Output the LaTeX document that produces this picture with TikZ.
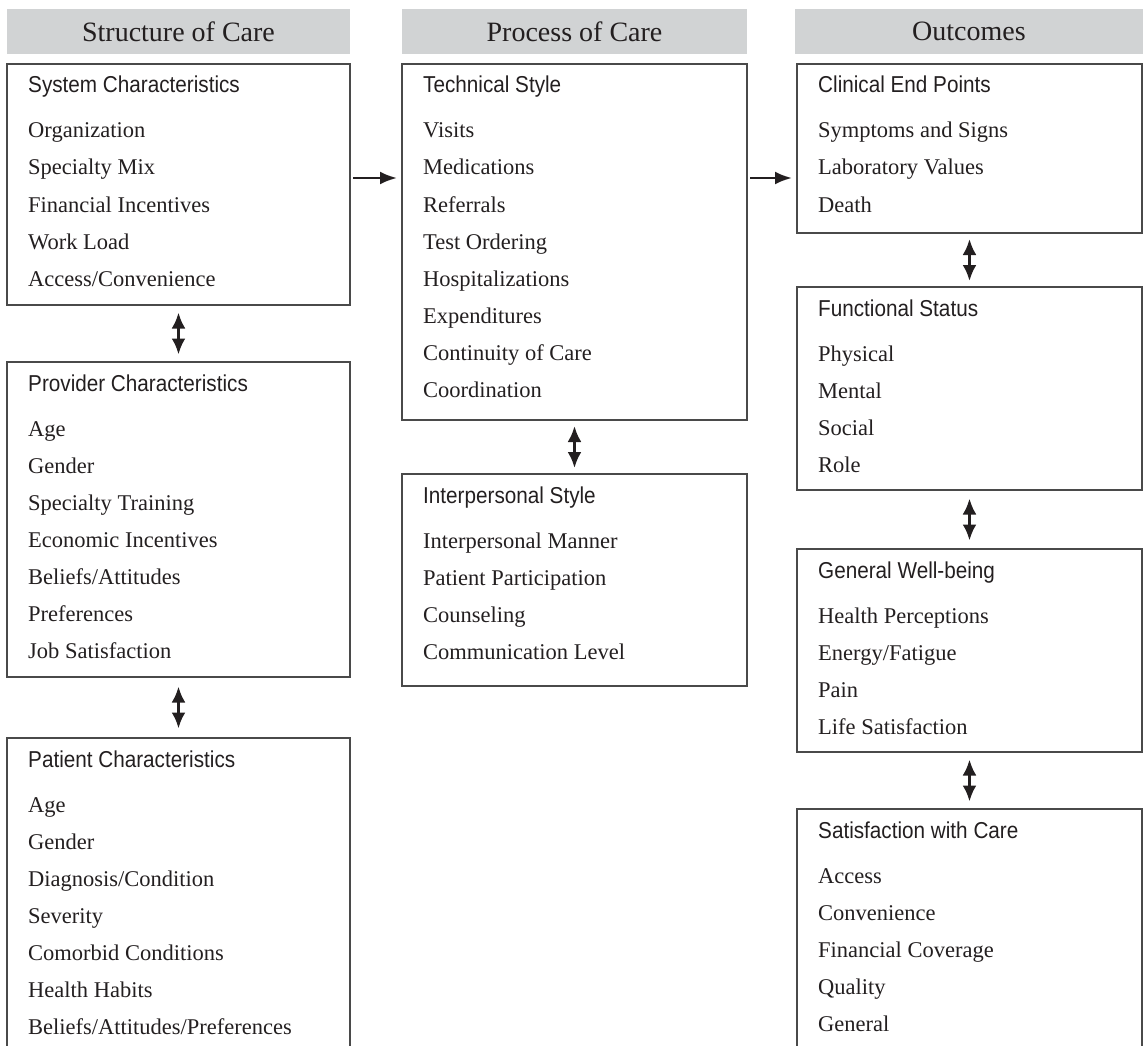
\documentclass[tikz,border=0pt]{standalone}
\usepackage{fontspec}
\setmainfont{Liberation Serif}
\newfontfamily\titlefont[FakeStretch=0.9]{Liberation Sans}
\usetikzlibrary{arrows.meta,calc}
\definecolor{hdrgray}{HTML}{D1D3D4}
\definecolor{linegray}{HTML}{4A4A4A}
\definecolor{txt}{HTML}{231F20}
\tikzset{
 boxst/.style={draw=linegray, line width=1.3pt, rectangle, inner sep=0pt, outer sep=0pt, anchor=north west},
 hdrst/.style={fill=hdrgray, rectangle, inner sep=0pt, minimum height=45pt, text=txt, font=\fontsize{28}{30}\selectfont},
 titlest/.style={anchor=base west, inner sep=0pt, text=txt, font=\titlefont\fontsize{23}{26}\selectfont},
 itemst/.style={anchor=base west, inner sep=0pt, text=txt, font=\fontsize{22.5}{26}\selectfont},
 harr/.style={-{Latex[length=17pt,width=13pt]}, line width=2.6pt, draw=txt, shorten <=3pt, shorten >=5pt},
 varr/.style={{Latex[length=16pt,width=14pt]}-{Latex[length=16pt,width=14pt]}, line width=3pt, draw=txt},
}
\newcommand{\carebox}[7]{%
  \node[boxst, minimum width=#5pt, minimum height={(#4-#3)*1pt}] (#1) at (#2,#3) {};
  \node[titlest] (#1-t) at (#2+21,#3+29) {#6};
  \foreach \itm [count=\k] in {#7} {\node[itemst] (#1-\k) at (#2+21,#3+37+37*\k) {\itm};}
}
\begin{document}
\begin{tikzpicture}[x=1pt,y=-1pt]
\useasboundingbox (0,0) rectangle (1143,1046);
\clip (0,0) rectangle (1143,1046);
\node[hdrst, minimum width=343pt] (h1) at (178.5,31.5) {Structure of Care};
\node[hdrst, minimum width=345pt] (h2) at (574.5,31.5) {Process of Care};
\node[hdrst, minimum width=348pt] (h3) at (969,31.5) {Outcomes};
\carebox{sys}{7}{64}{305}{343}{System Characteristics}{Organization,Specialty Mix,Financial Incentives,Work Load,Access/Convenience}
\carebox{prov}{7}{362}{677}{343}{Provider Characteristics}{Age,Gender,Specialty Training,Economic Incentives,Beliefs/Attitudes,Preferences,Job Satisfaction}
\carebox{pat}{7}{738}{1090}{343}{Patient Characteristics}{Age,Gender,Diagnosis/Condition,Severity,Comorbid Conditions,Health Habits,Beliefs/Attitudes/Preferences}
\carebox{tech}{402}{64}{420}{345}{Technical Style}{Visits,Medications,Referrals,Test Ordering,Hospitalizations,Expenditures,Continuity of Care,Coordination}
\carebox{inter}{402}{474}{686}{345}{Interpersonal Style}{Interpersonal Manner,Patient Participation,Counseling,Communication Level}
\carebox{clin}{797}{64}{233}{345}{Clinical End Points}{Symptoms and Signs,Laboratory Values,Death}
\carebox{func}{797}{287}{490}{345}{Functional Status}{Physical,Mental,Social,Role}
\carebox{well}{797}{549}{752}{345}{General Well-being}{Health Perceptions,Energy/Fatigue,Pain,Life Satisfaction}
\carebox{sat}{797}{809}{1090}{345}{Satisfaction with Care}{Access,Convenience,Financial Coverage,Quality,General}
\draw[harr] ([yshift=-114pt]sys.north east) -- ([yshift=-114pt]tech.north west);
\draw[harr] ([yshift=-114pt]tech.north east) -- ([yshift=-114pt]clin.north west);
\draw[varr] ($(sys.south)!0.5!(prov.north)+(0,-21)$) -- ($(sys.south)!0.5!(prov.north)+(0,21)$);
\draw[varr] ($(prov.south)!0.5!(pat.north)+(0,-21)$) -- ($(prov.south)!0.5!(pat.north)+(0,21)$);
\draw[varr] ($(tech.south)!0.5!(inter.north)+(0,-21)$) -- ($(tech.south)!0.5!(inter.north)+(0,21)$);
\draw[varr] ($(clin.south)!0.5!(func.north)+(0,-21)$) -- ($(clin.south)!0.5!(func.north)+(0,21)$);
\draw[varr] ($(func.south)!0.5!(well.north)+(0,-21)$) -- ($(func.south)!0.5!(well.north)+(0,21)$);
\draw[varr] ($(well.south)!0.5!(sat.north)+(0,-21)$) -- ($(well.south)!0.5!(sat.north)+(0,21)$);
\end{tikzpicture}
\end{document}
